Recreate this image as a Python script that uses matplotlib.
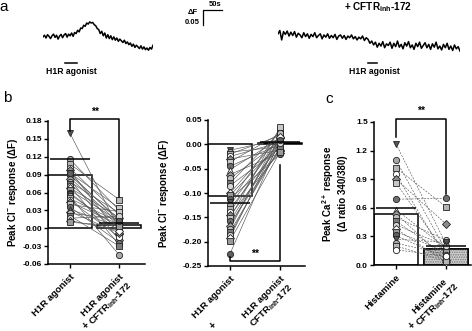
import numpy as np
import matplotlib
matplotlib.use("Agg")
import matplotlib.pyplot as plt
from matplotlib.lines import Line2D

plt.rcParams['font.family'] = ['Liberation Sans', 'DejaVu Sans']
plt.rcParams['font.weight'] = 'bold'
plt.rcParams['axes.labelweight'] = 'bold'
plt.rcParams['mathtext.fontset'] = 'custom'
plt.rcParams['mathtext.rm'] = 'Liberation Sans:bold'
plt.rcParams['mathtext.bf'] = 'Liberation Sans:bold'
plt.rcParams['mathtext.it'] = 'Liberation Sans:bold'
plt.rcParams['axes.unicode_minus'] = False
plt.rcParams['hatch.linewidth'] = 0.8

# ---- data ----
# a: fluorescence traces (delta F), control and + CFTRinh-172
trace_ctrl = [0.000, 0.006, -0.004, 0.008, 0.002, -0.006, 0.004, 0.010, -0.002, 0.006,
              -0.008, 0.003, 0.009, -0.003, 0.007, 0.012, -0.001, 0.010, 0.004, 0.014,
              0.002, 0.016, 0.012, 0.024, 0.018, 0.032, 0.030, 0.042, 0.038, 0.050,
              0.046, 0.054, 0.050, 0.052, 0.044, 0.040, 0.030, 0.026, 0.012, 0.020,
              0.004, 0.014, -0.004, 0.008, -0.006, 0.004, -0.010, 0.000, -0.012, -0.004,
              -0.016, -0.008, -0.014, -0.020, -0.012, -0.024, -0.018, -0.028, -0.022, -0.034,
              -0.026, -0.038, -0.030, -0.036, -0.042, -0.032, -0.044, -0.036, -0.046, -0.040,
              -0.048, -0.038, -0.044, -0.030]
trace_inh = [0.004, 0.016, -0.018, 0.012, 0.002, 0.014, -0.004, 0.010, -0.002, 0.012,
             -0.008, 0.006, 0.000, -0.010, 0.008, -0.006, 0.004, -0.012, 0.002, -0.006,
             0.008, -0.010, -0.002, 0.004, -0.014, 0.000, -0.008, 0.004, -0.012, -0.002,
             -0.010, 0.002, -0.016, -0.004, 0.000, -0.012, -0.002, -0.016, -0.004, -0.010,
             0.000, -0.014, -0.006, -0.018, -0.008, -0.014, -0.004, -0.020, -0.010, -0.016,
             -0.030, -0.022, -0.036, -0.026, -0.044, -0.030, -0.040, -0.024, -0.046, -0.032,
             -0.038, -0.026, -0.048, -0.030, -0.042, -0.022, -0.044, -0.034, -0.050, -0.028,
             -0.040, -0.024, -0.046, -0.036, -0.052, -0.030, -0.042, -0.026, -0.048, -0.038,
             -0.028, -0.046, -0.034, -0.052, -0.032, -0.044, -0.026, -0.050, -0.040, -0.054,
             -0.034, -0.046, -0.030, -0.052, -0.040, -0.056, -0.036, -0.050, -0.042, -0.058]

# b (left): peak Cl- response, H1R agonist vs + CFTRinh-172
b1_agonist = [0.160, 0.116, 0.108, 0.101, 0.097, 0.093, 0.089, 0.085, 0.082, 0.078,
              0.075, 0.071, 0.068, 0.064, 0.060, 0.057, 0.054, 0.050, 0.047, 0.044,
              0.040, 0.036, 0.032, 0.028, 0.025, 0.021, 0.017, 0.013, 0.010, 0.092]
b1_inh = [-0.002, 0.030, 0.048, 0.022, -0.010, 0.034, 0.015, 0.008, -0.020, 0.026,
          0.004, -0.028, 0.018, 0.012, -0.006, 0.000, -0.045, 0.010, -0.015, 0.006,
          0.028, -0.024, 0.002, -0.008, 0.016, -0.030, 0.020, -0.004, 0.004, 0.012]
b1_mean = [0.089, 0.005]
b1_err = [0.116, 0.008]

# b (right): negative responders
b2_agonist = [-0.012, -0.016, -0.020, -0.025, -0.030, -0.036, -0.045, -0.052, -0.062, -0.070,
              -0.080, -0.085, -0.100, -0.105, -0.112, -0.118, -0.124, -0.132, -0.140, -0.146,
              -0.152, -0.158, -0.163, -0.168, -0.174, -0.180, -0.186, -0.192, -0.198, -0.225]
b2_inh = [0.010, -0.005, 0.018, 0.004, -0.012, 0.022, 0.000, 0.012, -0.018, 0.006,
          0.026, -0.008, 0.015, 0.002, -0.020, 0.030, 0.008, -0.003, 0.020, -0.014,
          0.035, 0.005, -0.010, 0.013, 0.024, -0.006, 0.003, 0.016, -0.016, 0.009]
b2_mean = [-0.107, 0.003]
b2_err = [-0.120, 0.005]

# c: peak Ca2+ response (delta ratio 340/380)
c_hist = [1.27, 1.10, 1.02, 0.95, 0.90, 0.86, 0.69, 0.58, 0.54, 0.50,
          0.46, 0.42, 0.38, 0.35, 0.31, 0.27, 0.23, 0.20, 0.16]
c_inh = [0.22, 0.15, 0.61, 0.08, 0.43, 0.12, 0.70, 0.18, 0.05, 0.26,
         0.10, 0.20, 0.03, 0.14, 0.07, 0.24, 0.11, 0.04, 0.09]
c_mean = [0.54, 0.17]
c_err = [0.60, 0.20]

W, H = 472, 331
fig = plt.figure(figsize=(W / 100, H / 100), dpi=100)


def px_axes(l, t, r, b):
    return fig.add_axes([l / W, 1 - b / H, (r - l) / W, (b - t) / H])


def ftext(x, y, s, **kw):
    kw.setdefault('ha', 'center')
    kw.setdefault('va', 'center')
    kw.setdefault('fontweight', 'bold')
    fig.text(x / W, 1 - y / H, s, **kw)


def fline(xs, ys, lw=1.1):
    fig.add_artist(Line2D([x / W for x in xs], [1 - y / H for y in ys],
                          transform=fig.transFigure, color='black', lw=lw))


# ---- panel a ----
ax_t1 = px_axes(43, 13, 153, 58)
ax_t1.plot(np.arange(len(trace_ctrl)), trace_ctrl, color='black', lw=1.1)
ax_t1.set_ylim(-0.076, 0.086)
ax_t1.set_xlim(0, len(trace_ctrl) - 1)
ax_t1.axis('off')

ax_t2 = px_axes(278, 13, 460, 58)
ax_t2.plot(np.arange(len(trace_inh)), trace_inh, color='black', lw=1.1)
ax_t2.set_ylim(-0.083, 0.079)
ax_t2.set_xlim(0, len(trace_inh) - 1)
ax_t2.axis('off')

ftext(4, 7, 'a', fontsize=11, fontweight='normal')
ftext(71, 71, 'H1R agonist', fontsize=6.2)
fline([65, 77], [63, 63])
ftext(374, 71, 'H1R agonist', fontsize=6.2)
fline([368, 377], [63, 63])
ftext(378, 7, r'+ CFTR$_{inh}$-172', fontsize=7.2)
fline([203, 203, 222], [25, 10, 10], lw=0.9)
ftext(193, 12, r'ΔF', fontsize=5.5)
ftext(192, 22, '0.05', fontsize=5.5)
ftext(215, 5, '50s', fontsize=5.5)

# marker styles (cycled per cell)
markers = ['v', 'o', 's', 'o', 'D', 's', 'o', '^', 'D', 'o', 's', 'o', 'D', 's', 'o']
faces = ['#555555', '#a8a8a8', '#b5b5b5', '#ffffff', '#8c8c8c', '#c8c8c8', '#707070',
         '#ffffff', '#a0a0a0', '#bdbdbd', '#7a7a7a', '#d6d6d6', '#ffffff', '#9a9a9a', '#606060']


def tick_text(v, fmt):
    v = round(v, 3)
    if v == 0:
        v = 0.0
    return fmt % v


def paired_panel(ax, first, second, means, errs, ylim, yticks, fmt, ylabel, label_x,
                 xlabels, dashed=False, stipple=False, xlim=(-0.44, 1.52)):
    ls = (0, (3, 2)) if dashed else '-'
    width = 0.88
    ax.bar([0, 1], means, width=width, facecolor='white', edgecolor='black', lw=1.1, zorder=1)
    if stipple:
        ax.bar(1, means[1], width=width, facecolor='#d0d0d0', edgecolor='#7a7a7a',
               hatch='.......', lw=0, zorder=1.2)
        ax.bar(1, means[1], width=width, fill=False, edgecolor='black', lw=1.1, zorder=1.3)
    for a, b in zip(first, second):
        ax.plot([0, 1], [a, b], color='#555555', lw=0.45, ls=ls, zorder=2)
    for i, (a, b) in enumerate(zip(first, second)):
        m = markers[i % len(markers)]
        fc = faces[i % len(faces)]
        for xx, yy in ((0, a), (1, b)):
            ax.plot(xx, yy, marker=m, mfc=fc, mec='#222222', mew=0.6, ms=4.5, zorder=4)
    for xx, e in zip([0, 1], errs):
        ax.hlines(e, xx - 0.4, xx + 0.4, color='black', lw=1.1, zorder=5)
    ax.set_xlim(*xlim)
    ax.set_ylim(*ylim)
    ax.set_yticks(yticks)
    ax.set_yticklabels([tick_text(v, fmt) for v in yticks], fontsize=6, fontweight='bold')
    ax.set_xticks([0, 1])
    ax.set_xticklabels(xlabels, rotation=45, ha='right', rotation_mode='anchor',
                       fontsize=6.8, fontweight='bold', multialignment='center')
    for s in ('top', 'right'):
        ax.spines[s].set_visible(False)
    for s in ('left', 'bottom'):
        ax.spines[s].set_linewidth(1.1)
    ax.tick_params(axis='both', direction='out', length=3, width=1.0, pad=1.5)
    ax.tick_params(axis='x', pad=3)
    ax.set_ylabel(ylabel, fontsize=7, fontweight='bold')
    ax.yaxis.set_label_coords(label_x, 0.5)


def bracket(ax, y_left, y_top, y_right, stars_y):
    ax.plot([0, 0, 1, 1], [y_left, y_top, y_top, y_right], color='black', lw=1.1,
            clip_on=False, zorder=6)
    ax.text(0.5, stars_y, '**', ha='center', va='center', fontsize=7.5,
            fontweight='bold', clip_on=False)


def plus_mark(ax, dx, dy):
    ax.annotate('+', xy=(1, 0), xycoords=('data', 'axes fraction'), xytext=(dx, -dy),
                textcoords='offset pixels', ha='center', va='center', fontsize=7,
                fontweight='bold', rotation=45, annotation_clip=False)


# ---- panel b (left) ----
ax_b1 = px_axes(48, 121, 145, 264)
paired_panel(ax_b1, b1_agonist, b1_inh, b1_mean, b1_err, (-0.06, 0.18),
             np.arange(-0.06, 0.181, 0.03), '%.2f', r'Peak Cl$^{-}$ response (ΔF)', -0.29,
             ['H1R agonist', r'H1R agonist' + '\n' + r'CFTR$_{inh}$-172'])
bracket(ax_b1, 0.164, 0.184, 0.052, 0.195)
plus_mark(ax_b1, -33, 62)
ftext(7, 98, 'b', fontsize=11, fontweight='normal')

# ---- panel b (right) ----
ax_b2 = px_axes(208, 120, 305, 266)
paired_panel(ax_b2, b2_agonist, b2_inh, b2_mean, b2_err, (-0.25, 0.05),
             np.arange(-0.25, 0.051, 0.05), '%.2f', r'Peak Cl$^{-}$ response (ΔF)', -0.38,
             ['H1R agonist', r'H1R agonist' + '\n' + r'CFTR$_{inh}$-172'],
             xlim=(-0.44, 1.5))
bracket(ax_b2, -0.232, -0.240, -0.042, -0.226)
plus_mark(ax_b2, -67, 60)

# ---- panel c ----
ax_c = px_axes(374, 122, 471, 265)
paired_panel(ax_c, c_hist, c_inh, c_mean, c_err, (0, 1.5),
             np.arange(0, 1.51, 0.3), '%.1f',
             'Peak Ca$^{2+}$ response\n(Δ ratio 340/380)', -0.27,
             ['Histamine', 'Histamine\n' + r'CFTR$_{inh}$-172'],
             dashed=True, stipple=True, xlim=(-0.44, 1.5))
bracket(ax_c, 1.34, 1.53, 0.75, 1.62)
plus_mark(ax_c, -34, 61)
ftext(329, 99, 'c', fontsize=11, fontweight='normal')

fig.savefig('out.png', dpi=100)
